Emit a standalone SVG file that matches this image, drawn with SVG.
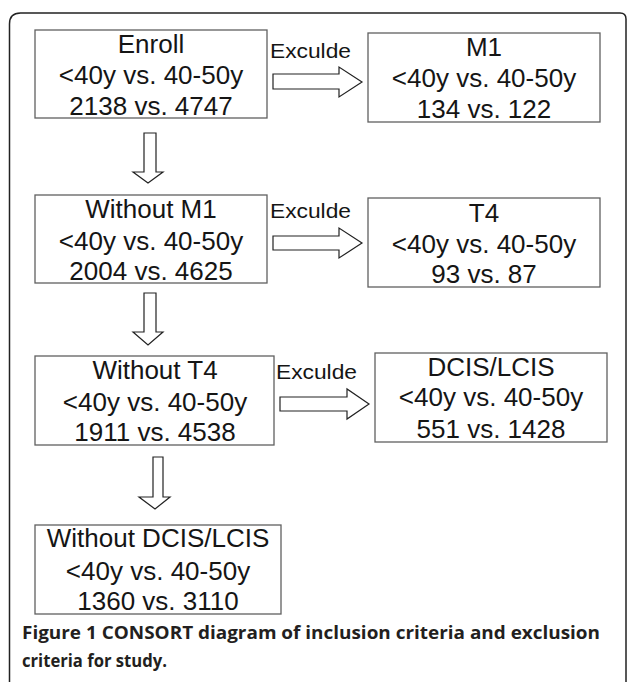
<svg xmlns="http://www.w3.org/2000/svg" width="627" height="682" viewBox="0 0 627 682">
<style>
.box{fill:#fff;stroke:#606060;stroke-width:1.3}
.t{font-family:"Liberation Sans",Arial,sans-serif;font-size:26px;fill:#151515;text-anchor:middle}
.lbl{font-family:"Liberation Sans",Arial,sans-serif;font-size:20px;fill:#151515}
.arr{fill:#fff;stroke:#222;stroke-width:1.2;stroke-linejoin:miter}
.cap{font-family:"Open Sans","Noto Sans",sans-serif;font-weight:bold;font-size:18.5px;fill:#231f20}
</style>
<rect width="627" height="682" fill="#fff"/>
<path d="M9.5,682 V24 Q9.5,13 20.5,13 H620 Q626,13 626,19 V682" fill="none" stroke="#222" stroke-width="1.5"/>

<g id="connectors">
  <path class="arr" d="M273,74 H339 V67 L362,82 L339,97 V89 H273 Z"/>
  <path class="arr" d="M273,236 H339 V228 L362,243 L339,258 V250 H273 Z"/>
  <path class="arr" d="M280,397 H347 V389 L369,404 L347,419 V411 H280 Z"/>
  <path class="arr" d="M144,133 V172 H133 L148,183 L163,172 H156 V133 Z"/>
  <path class="arr" d="M144,293 V332 H133 L148,345 L163,332 H156 V293 Z"/>
  <path class="arr" d="M153,457 V497 H139 L155,509 L170,497 H163 V457 Z"/>
  <text class="lbl" x="270" y="58" textLength="81" lengthAdjust="spacingAndGlyphs">Exculde</text>
  <text class="lbl" x="270" y="218" textLength="81" lengthAdjust="spacingAndGlyphs">Exculde</text>
  <text class="lbl" x="276" y="379" textLength="81" lengthAdjust="spacingAndGlyphs">Exculde</text>
</g>

<g id="enroll">
  <rect class="box" x="35" y="30" width="232" height="88"/>
  <text class="t" x="151" y="53">Enroll</text>
  <text class="t" x="151" y="84">&lt;40y vs. 40-50y</text>
  <text class="t" x="151" y="115">2138 vs. 4747</text>
</g>
<g id="m1">
  <rect class="box" x="368" y="33" width="232" height="89"/>
  <text class="t" x="484" y="56">M1</text>
  <text class="t" x="484" y="87">&lt;40y vs. 40-50y</text>
  <text class="t" x="484" y="118">134 vs. 122</text>
</g>
<g id="without-m1">
  <rect class="box" x="35" y="195" width="232" height="88"/>
  <text class="t" x="151" y="218">Without M1</text>
  <text class="t" x="151" y="250">&lt;40y vs. 40-50y</text>
  <text class="t" x="151" y="280">2004 vs. 4625</text>
</g>
<g id="t4">
  <rect class="box" x="368" y="198" width="232" height="89"/>
  <text class="t" x="484" y="222">T4</text>
  <text class="t" x="484" y="253">&lt;40y vs. 40-50y</text>
  <text class="t" x="484" y="283">93 vs. 87</text>
</g>
<g id="without-t4">
  <rect class="box" x="35" y="356" width="239" height="89"/>
  <text class="t" x="155" y="379">Without T4</text>
  <text class="t" x="155" y="411">&lt;40y vs. 40-50y</text>
  <text class="t" x="155" y="441">1911 vs. 4538</text>
</g>
<g id="dcis-lcis">
  <rect class="box" x="375" y="353" width="232" height="89"/>
  <text class="t" x="491" y="376">DCIS/LCIS</text>
  <text class="t" x="491" y="406">&lt;40y vs. 40-50y</text>
  <text class="t" x="491" y="438">551 vs. 1428</text>
</g>
<g id="without-dcis-lcis">
  <rect class="box" x="35" y="525" width="246" height="89"/>
  <text class="t" x="158" y="547">Without DCIS/LCIS</text>
  <text class="t" x="158" y="580">&lt;40y vs. 40-50y</text>
  <text class="t" x="158" y="610">1360 vs. 3110</text>
</g>

<g id="caption">
  <text class="cap" x="22" y="639" textLength="578" lengthAdjust="spacingAndGlyphs">Figure 1 CONSORT diagram of inclusion criteria and exclusion</text>
  <text class="cap" x="22" y="667" textLength="145" lengthAdjust="spacingAndGlyphs">criteria for study.</text>
</g>
</svg>
